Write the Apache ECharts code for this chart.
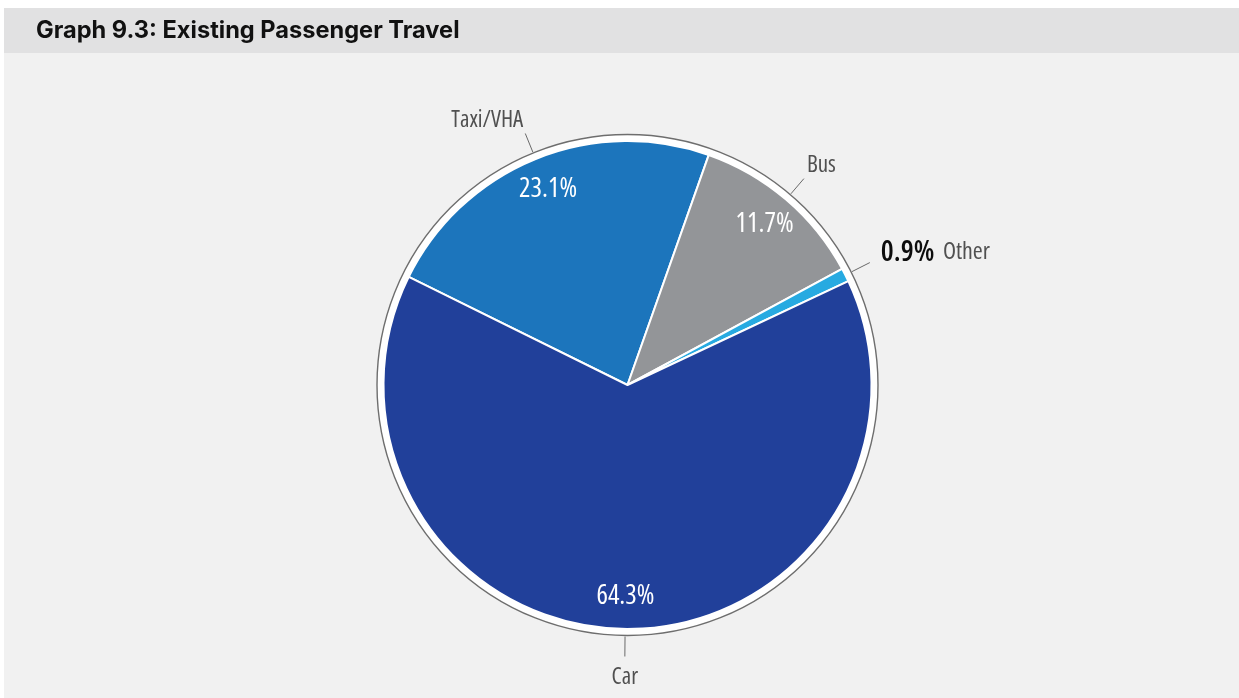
<!DOCTYPE html>
<html>
<head>
<meta charset="utf-8">
<title>Graph 9.3: Existing Passenger Travel</title>
<script src="https://cdn.jsdelivr.net/npm/echarts@6/dist/echarts.min.js"></script>
<style>
  html, body { margin: 0; padding: 0; background: #ffffff; }
  #chart { width: 1239px; height: 698px; }
</style>
</head>
<body>
<div id="chart"></div>
<script>
// Share of existing passenger trips by mode (%)
const modes = ['Taxi/VHA', 'Bus', 'Other', 'Car'];
const shares = [23.1, 11.7, 0.9, 64.3];
const modeColors = ['#1c75bc', '#939598', '#27aae1', '#21409a'];

const titleText = 'Graph 9.3: Existing Passenger Travel';
// condensed face of a variable sans for the chart labels
const narrow = "'Open Sans', Roboto, sans-serif";
const narrowStretch = 'condensed';

const center = [627.5, 385];
const pieRadius = 244;
const ringRadius = 250.5;
const startAngle = 153.7;

const pctText = v => v.toFixed(1) + '%';

const sliceData = modes.map((m, i) => ({
  name: m,
  value: shares[i],
  itemStyle: { color: modeColors[i] }
}));

// labels drawn on a transparent copy of the pie
const ghost = () => modes.map((m, i) => ({
  name: m,
  value: shares[i],
  itemStyle: { color: 'rgba(0,0,0,0)' }
}));

const innerLabelData = ghost().map(d => Object.assign(d, {
  label: { show: d.name !== 'Other' }
}));

const chart = echarts.init(document.getElementById('chart'), null, { renderer: 'canvas' });

chart.setOption({
  animation: false,
  backgroundColor: '#ffffff',
  graphic: [
    { type: 'rect', z: -10, silent: true,
      shape: { x: 4, y: 8, width: 1235, height: 690 },
      style: { fill: '#f1f1f1' } },
    { type: 'rect', z: -9, silent: true,
      shape: { x: 4, y: 8, width: 1235, height: 45 },
      style: { fill: '#e1e1e2' } }
  ],
  title: {
    text: titleText,
    left: 36,
    top: 18.5,
    padding: 0,
    textStyle: {
      fontFamily: "Inter, 'Liberation Sans', sans-serif",
      fontWeight: 'bold',
      fontSize: 23.6,
      color: '#111111'
    }
  },
  series: [
    // white halo with thin grey outline around the pie
    {
      type: 'pie',
      silent: true,
      center: center,
      radius: [0, ringRadius],
      z: 1,
      label: { show: false },
      labelLine: { show: false },
      itemStyle: { color: '#ffffff', borderColor: '#6e6e6e', borderWidth: 1.4 },
      emphasis: { disabled: true },
      data: [{ name: 'ring', value: 1 }]
    },
    // slices
    {
      type: 'pie',
      silent: true,
      center: center,
      radius: [0, pieRadius],
      startAngle: startAngle,
      clockwise: true,
      z: 2,
      label: { show: false },
      labelLine: { show: false },
      itemStyle: { borderColor: '#ffffff', borderWidth: 2 },
      emphasis: { disabled: true },
      data: sliceData
    },
    // percentage labels inside the slices
    {
      type: 'pie',
      silent: true,
      center: center,
      radius: [197, 219],
      startAngle: startAngle,
      clockwise: true,
      z: 3,
      label: {
        show: true,
        position: 'inside',
        formatter: p => pctText(p.value),
        color: '#ffffff',
        fontFamily: narrow,
        fontStyle: narrowStretch,
        fontSize: 27
      },
      labelLine: { show: false },
      emphasis: { disabled: true },
      data: innerLabelData
    },
    // category names outside with leader lines
    {
      type: 'pie',
      silent: true,
      center: center,
      radius: [0, ringRadius + 1],
      startAngle: startAngle,
      clockwise: true,
      avoidLabelOverlap: false,
      z: 4,
      label: {
        show: true,
        position: 'outside',
        fontFamily: narrow,
        fontStyle: narrowStretch,
        fontSize: 23,
        color: '#505050',
        formatter: p => p.name === 'Other'
          ? '{v|' + pctText(p.value) + '}  {n|' + p.name + '}'
          : p.name,
        rich: {
          v: { fontFamily: narrow, fontStyle: narrowStretch, fontWeight: 600, fontSize: 29, color: '#0d0d0d' },
          n: { fontFamily: narrow, fontStyle: narrowStretch, fontSize: 24, color: '#505050' }
        }
      },
      labelLine: {
        show: true,
        length: 20,
        length2: 0,
        lineStyle: { color: '#6a6a6a', width: 1 }
      },
      labelLayout: function (p) {
        const pts = p.labelLinePoints;
        if (!pts || pts.length < 2) return {};
        const a = pts[0];
        const b = pts[pts.length - 1];
        const ux = (b[0] - a[0]) / (Math.hypot(b[0] - a[0], b[1] - a[1]) || 1);
        const uy = (b[1] - a[1]) / (Math.hypot(b[0] - a[0], b[1] - a[1]) || 1);
        // leader lines that run mostly sideways: label sits beside the line end
        if (Math.abs(uy) < 0.6) {
          return {
            x: b[0] + (ux > 0 ? 11 : -11),
            y: b[1] - 10,
            align: ux > 0 ? 'left' : 'right',
            verticalAlign: 'middle',
            labelLinePoints: pts
          };
        }
        let align = 'center';
        let x = b[0];
        if (ux < -0.2) { align = 'right'; x = b[0] - 2; }
        else if (ux > 0.2) { align = 'left'; x = b[0] + 3; }
        const up = uy < 0;
        return {
          x: x,
          y: up ? b[1] - 2 : b[1] + 9,
          align: align,
          verticalAlign: up ? 'bottom' : 'top',
          labelLinePoints: pts
        };
      },
      emphasis: { disabled: true },
      data: ghost()
    }
  ]
});
</script>
</body>
</html>
